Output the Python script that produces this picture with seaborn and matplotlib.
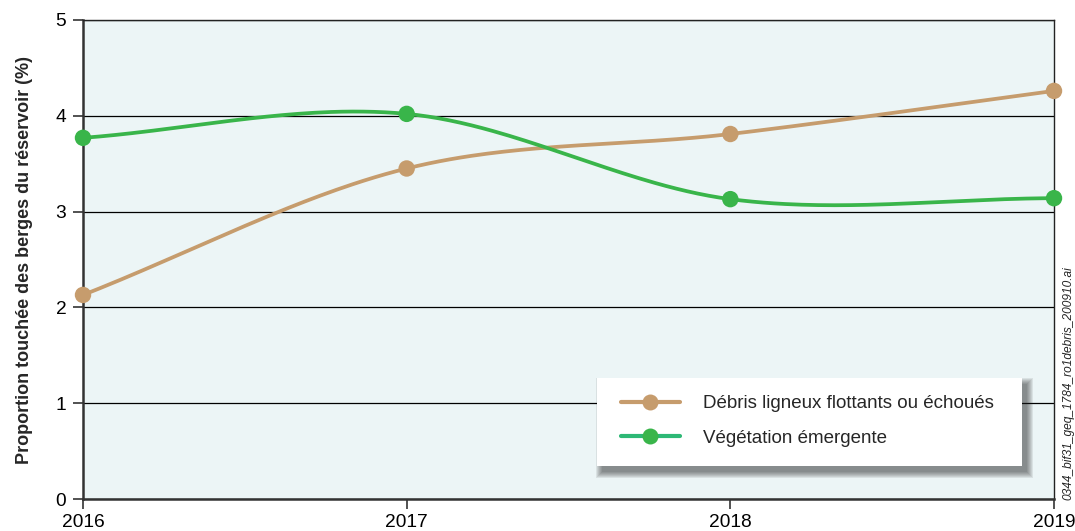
import numpy as np
import pandas as pd
import matplotlib
matplotlib.use("Agg")
import matplotlib.pyplot as plt
import matplotlib.transforms as mtransforms
from matplotlib.lines import Line2D
from matplotlib.patches import Rectangle
import seaborn as sns

# Data
years = [2016, 2017, 2018, 2019]
debris = [2.13, 3.45, 3.81, 4.26]
vegetation = [3.77, 4.02, 3.13, 3.14]
labels = ["Débris ligneux flottants ou échoués", "Végétation émergente"]
colors = ["#C69C6D", "#39B54A"]
legend_line_colors = ["#C69C6D", "#2DB875"]
y_ticks = [0, 1, 2, 3, 4, 5]


def smooth(x, y, n=60):
    # Catmull-Rom style cubic through the points (drawing style only)
    x = np.asarray(x, float)
    y = np.asarray(y, float)
    m = np.zeros_like(y)
    m[0] = (y[1] - y[0]) / (x[1] - x[0])
    m[-1] = (y[-1] - y[-2]) / (x[-1] - x[-2])
    m[1:-1] = (y[2:] - y[:-2]) / (x[2:] - x[:-2])
    xs, ys = [], []
    for i in range(len(x) - 1):
        h = x[i + 1] - x[i]
        t = np.linspace(0, 1, n, endpoint=(i == len(x) - 2))
        h00 = 2 * t**3 - 3 * t**2 + 1
        h10 = t**3 - 2 * t**2 + t
        h01 = -2 * t**3 + 3 * t**2
        h11 = t**3 - t**2
        xs.append(x[i] + t * h)
        ys.append(h00 * y[i] + h10 * h * m[i] + h01 * y[i + 1] + h11 * h * m[i + 1])
    return np.concatenate(xs), np.concatenate(ys)


sns.set_theme(style="white")
plt.rcParams["font.family"] = ["Liberation Sans", "DejaVu Sans"]

fig = plt.figure(figsize=(10.75, 5.31), dpi=100)
ax = fig.add_axes([83 / 1075, 1 - 499 / 531, 971 / 1075, 479 / 531])
ax.set_facecolor("#ECF5F6")

for series, lab, col in zip([debris, vegetation], labels, colors):
    sx, sy = smooth(years, series)
    curve = pd.DataFrame({"year": sx, "value": sy})
    sns.lineplot(data=curve, x="year", y="value", ax=ax, color=col,
                 linewidth=2.7, sort=False, zorder=3)
    pts = pd.DataFrame({"year": years, "value": series})
    sns.scatterplot(data=pts, x="year", y="value", ax=ax, color=col,
                    s=140, edgecolor="none", zorder=4, clip_on=False)

ax.set_xlim(2016, 2019)
ax.set_ylim(0, 5)
ax.set_xticks(years)
ax.set_yticks(y_ticks)
ax.set_xticklabels([str(y) for y in years], fontsize=13.8)
ax.set_yticklabels([str(v) for v in y_ticks], fontsize=13.8)
ax.set_xlabel("")
ax.set_ylabel("Proportion touchée des berges du réservoir (%)",
              fontsize=13, fontweight="bold", labelpad=16)
ax.grid(axis="y", color="black", linewidth=0.9)
ax.grid(axis="x", visible=False)
ax.set_axisbelow(True)
ax.tick_params(axis="both", direction="out", length=7, width=1.2,
               color="#333333", labelcolor="black", left=True, bottom=True)
ax.tick_params(axis="y", pad=5)
ax.tick_params(axis="x", pad=4)

for side in ["left", "bottom"]:
    ax.spines[side].set_color("#333333")
    ax.spines[side].set_linewidth(1.8)
for side in ["top", "right"]:
    ax.spines[side].set_color("#222222")
    ax.spines[side].set_linewidth(1.0)

# legend box with a soft drop shadow
box_x, box_y, box_w, box_h = 0.5293, 0.0689, 0.4377, 0.1837
shadow = mtransforms.offset_copy(ax.transAxes, fig=fig, x=5, y=-6, units="dots")
for k in range(7):
    gx = (6 - k) / 971
    gy = (6 - k) / 479
    ax.add_patch(Rectangle((box_x - gx, box_y - gy), box_w + 2 * gx,
                           box_h + 2 * gy, transform=shadow, facecolor="#222222",
                           edgecolor="none", alpha=0.09, zorder=5))
ax.add_patch(Rectangle((box_x, box_y), box_w, box_h, transform=ax.transAxes,
                       facecolor="white", edgecolor="none", zorder=6))

handles = [Line2D([0], [0], color=lc, linewidth=3, marker="o",
                  markersize=11.5, markerfacecolor=c, markeredgewidth=0)
           for c, lc in zip(colors, legend_line_colors)]
leg = ax.legend(handles, labels, loc="center left",
                bbox_to_anchor=(0.554, 0.163), fontsize=13.5, frameon=False,
                handlelength=3.15, handletextpad=1.25, labelspacing=0.93,
                borderpad=0, borderaxespad=0)
leg.set_zorder(7)

fig.text(1068 / 1075, 31 / 531, "0344_bif31_geq_1784_ro1debris_200910.ai",
         rotation=90, ha="center", va="bottom", fontsize=8.6, style="italic")

fig.savefig("out.png", dpi=100)
